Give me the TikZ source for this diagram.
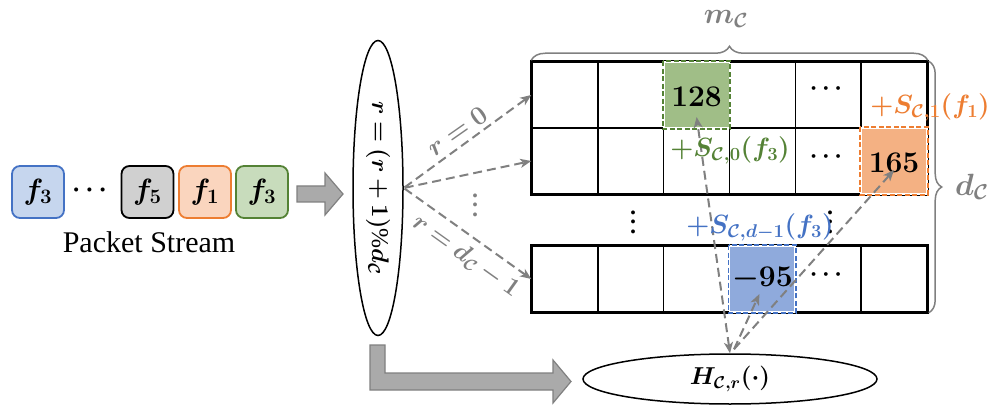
\RequirePackage{fix-cm}
\documentclass[tikz,border=0pt]{standalone}
\usepackage{amsmath}
\usepackage{bm}
\usepackage{graphicx}
\usepackage{fontspec}
\setmainfont{Liberation Serif}
\usetikzlibrary{shapes.geometric,arrows.meta,decorations.pathreplacing,calc}

\definecolor{pblue}{RGB}{198,214,238}
\definecolor{pblueline}{RGB}{68,114,196}
\definecolor{pgray}{RGB}{208,208,208}
\definecolor{porange}{RGB}{250,213,190}
\definecolor{porangeline}{RGB}{237,125,49}
\definecolor{pgreen}{RGB}{200,220,188}
\definecolor{pgreenline}{RGB}{84,130,53}
\definecolor{cgreen}{RGB}{160,190,135}
\definecolor{corange}{RGB}{244,177,131}
\definecolor{cblue}{RGB}{143,170,220}
\definecolor{lgray}{RGB}{128,128,128}
\definecolor{bgray}{RGB}{170,170,170}

\newcommand{\fs}[1]{\fontsize{#1}{#1}\selectfont}
% bold formula at 24pt, enlarged by a factor
\newcommand{\bmath}[2]{\scalebox{#1}{\fs{24}$\bm{#2}$}}
% tall vertical ellipsis built from bold periods
\newcommand{\colondots}{\vbox{\baselineskip=9.5pt\lineskiplimit=0pt
  \hbox{\bfseries .}\hbox{\bfseries .}\hbox{\bfseries .}}}

\tikzset{
  packet/.style={draw=#1, line width=1.8pt, rounded corners=8pt,
    minimum width=52pt, minimum height=52pt, inner sep=0pt},
  cellbox/.style={draw=black, line width=1.5pt, minimum width=65.83pt,
    minimum height=66pt, inner sep=0pt},
  hotcell/.style={fill=#1, draw=white, line width=1.8pt, minimum width=65.83pt,
    minimum height=66pt, inner sep=0pt},
  hotedge/.style={draw=#1, line width=1.8pt, dash pattern=on 5pt off 2.5pt},
  plain/.style={inner sep=0pt},
  dasharrow/.style={draw=lgray, line width=2pt, dash pattern=on 9pt off 5pt,
    -{Stealth[length=11pt,width=9pt,inset=3pt]}},
  bigarrow/.style={fill=bgray, draw=lgray, line width=1.2pt},
  graylabel/.style={text=lgray, inner sep=0pt},
  vdotsnode/.style={font=\fs{24}, inner sep=0pt},
}

\begin{document}
\begin{tikzpicture}[x=1pt,y=-1pt]
\useasboundingbox (0,0) rectangle (993,406);

% packet stream
\node[packet=pblueline, fill=pblue] (p1) at (38,192) {};
\node[plain] (t1) at (p1) {\bmath{1.22}{f_3}};
\node[font=\fs{26}] (pdots) at (92,190) {$\bm{\cdots}$};
\node[packet=black, fill=pgray] (p2) at (147.5,192) {};
\node[plain] (t2) at (p2) {\bmath{1.22}{f_5}};
\node[packet=porangeline, fill=porange] (p3) at (205,192) {};
\node[plain] (t3) at (p3) {\bmath{1.22}{f_1}};
\node[packet=pgreenline, fill=pgreen] (p4) at (262,192) {};
\node[plain] (t4) at (p4) {\bmath{1.22}{f_3}};
\node[font=\fs{30}] (pname) at (149,242) {Packet Stream};

% arrow into the row selector
\draw[bigarrow] (297,186) -- (325,186) -- (325,173) -- (343,194)
  -- (325,215) -- (325,202) -- (297,202) -- cycle;

% row selector
\node[draw, ellipse, line width=1.5pt, minimum width=50pt, minimum height=295pt,
  inner sep=0pt] (sel) at (378,188) {};
\node[rotate=-90, plain] (seltext) at (sel.center)
  {\bmath{1.0}{r=(r+1)\%d_{\mathcal{C}}}};

% hash unit
\node[draw, ellipse, line width=1.5pt, minimum width=294pt, minimum height=50pt,
  inner sep=0pt] (hash) at (730,379) {};
\node[plain] (hashtext) at (hash) {\bmath{1.02}{H_{\mathcal{C},r}(\cdot)}};

% L-shaped arrow into the hash unit
\draw[bigarrow] (370,345) -- (385,345) -- (385,373) -- (553,373) -- (553,360)
  -- (571,381.5) -- (553,403) -- (553,390) -- (370,390) -- cycle;

% counter grid: rows 1, 2 and the last row
\foreach \r/\y in {1/95, 2/161, 3/279} {
  \foreach \c in {1,...,6} {
    \node[cellbox] (c\r\c) at ({532+65.83*(\c-0.5)},\y) {};
  }
}
\draw[line width=2.5pt] (c11.north west) rectangle (c26.south east);
\draw[line width=2.5pt] (c31.north west) rectangle (c36.south east);

% updated counters
\node[hotcell=cgreen] (g) at (c13) {};
\draw[hotedge=pgreenline] (g.north west) rectangle (g.south east);
\node[plain] (gv) at ($(g)+(0,2)$) {\bmath{1.25}{128}};
\node[hotcell=corange] (o) at (c26) {};
\draw[hotedge=porangeline] (o.north west) rectangle (o.south east);
\node[plain] (ov) at ($(o)+(0,2)$) {\bmath{1.25}{165}};
\node[hotcell=cblue] (b) at (c34) {};
\draw[hotedge=pblueline] (b.north west) rectangle (b.south east);
\node[plain] (bv) at ($(b)+(0,0)$) {\bmath{1.25}{-95}};

% ellipsis marks in the grid
\node[font=\fs{24}] (d1) at ($(c15)+(0,-6)$) {$\bm{\cdots}$};
\node[font=\fs{24}] (d2) at ($(c25)+(0,-4)$) {$\bm{\cdots}$};
\node[font=\fs{24}] (d3) at ($(c35)+(0,-4)$) {$\bm{\cdots}$};
\node[vdotsnode] (v1) at (633,222) {\colondots};
\node[vdotsnode] (v2) at (830,222) {\colondots};

% braces
\draw[lgray, line width=1.5pt, decorate,
  decoration={brace, amplitude=14pt, raise=1pt}]
  (c11.north west) -- (c16.north east);
\node[graylabel] (mlab) at (726,19) {\bmath{1.22}{m_{\mathcal{C}}}};
\draw[lgray, line width=1.5pt, decorate,
  decoration={brace, amplitude=13pt, raise=1pt}]
  (c16.north east) -- (c36.south east);
\node[graylabel] (dlab) at (972,187) {\bmath{1.28}{d_{\mathcal{C}}}};

% row selection arrows
\draw[dasharrow, shorten <=1pt] (sel.east) -- (c11.west);
\draw[dasharrow, shorten <=1pt] (sel.east) -- (c21.west);
\draw[dasharrow, shorten <=1pt] (sel.east) -- (c31.west);
\node[graylabel, rotate=35] (r0) at (457,131) {\bmath{1.1}{r=0}};
\node[graylabel, rotate=-35.5] (rd) at (466,256)
  {\bmath{1.05}{r=d_{\mathcal{C}}-1}};
\node[vdotsnode, text=lgray] (v0) at (475,205) {\colondots};

% counter update arrows
\coordinate (hs) at ($(hash.north)+(4,-4)$);
\draw[dasharrow, {Stealth[length=11pt,width=9pt,inset=3pt]}-{Stealth[length=11pt,width=9pt,inset=3pt]}]
  (hash.north) -- ($(g.center)+(0,22)$);
\draw[dasharrow] (hs) -- ($(b.center)+(-3,15)$);
\draw[dasharrow] (hs) -- ($(o.center)+(0,9)$);

% update labels
\node[plain, text=pgreenline] (lg) at (730,150)
  {\bmath{1.1}{+S_{\mathcal{C},0}(f_3)}};
\node[plain, text=porangeline] (lo) at (930,107)
  {\bmath{1.1}{+S_{\mathcal{C},1}(f_1)}};
\node[plain, text=pblueline] (lb) at (760,227)
  {\bmath{1.1}{+S_{\mathcal{C},d-1}(f_3)}};
\end{tikzpicture}
\end{document}
